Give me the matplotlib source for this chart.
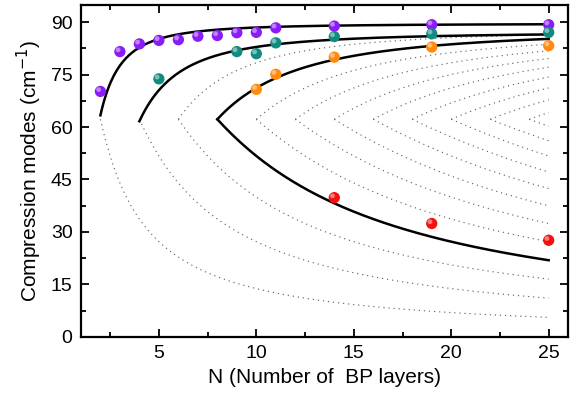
import numpy as np
import matplotlib
matplotlib.use("Agg")
import matplotlib.pyplot as plt
from matplotlib.transforms import offset_copy
from matplotlib.ticker import MultipleLocator

plt.rcParams['font.family'] = ['Liberation Sans', 'DejaVu Sans']

N_purple = [2, 3, 4, 5, 6, 7, 8, 9, 10, 11, 14, 19, 25]
w_purple = [70.2, 81.6, 83.8, 84.8, 85.0, 86.0, 86.2, 87.0, 87.1, 88.4, 88.9, 89.3, 89.3]
N_teal = [5, 9, 10, 11, 14, 19, 25]
w_teal = [73.8, 81.6, 81.0, 84.1, 85.9, 86.7, 87.1]
N_orange = [10, 11, 14, 19, 25]
w_orange = [70.8, 75.1, 80.0, 82.9, 83.3]
N_red = [14, 19, 25]
w_red = [39.8, 32.4, 27.6]

# ---- linear-chain model parameters ----
omega_dotted = 88.0                    # bulk frequency of the dotted model family
dotted_orders = list(range(1, 13))     # branch order k; vertex at N = 2k
dotted_upper_from = 3                  # upper dotted branches shown from this order on
solid_orders = [1, 2, 4]
solid_omegas = [89.6, 87.2, 88.0]
solid_has_lower = [False, False, True]
N_max = 25

colors = {'purple': '#8a1cf5', 'teal': '#128a80', 'orange': '#ff8a0d', 'red': '#f50f0f'}

fig = plt.figure(figsize=(5.78, 3.98), dpi=100)
ax = fig.add_axes([0.140, 0.154, 0.843, 0.834])

def branch(k, omega, upper):
    N = np.linspace(2 * k, N_max, 300)
    if upper:
        return N, omega * np.cos(k * np.pi / (2 * N))
    return N, omega * np.sin(k * np.pi / (2 * N))

for k in dotted_orders:
    for up in (True, False):
        if up and k < dotted_upper_from:
            continue
        n, w = branch(k, omega_dotted, up)
        ax.plot(n, w, color='#666666', lw=0.85, linestyle=(0, (1, 3.3)), zorder=1)

for k, om, low in zip(solid_orders, solid_omegas, solid_has_lower):
    n, w = branch(k, om, True)
    ax.plot(n, w, color='black', lw=1.8, zorder=2)
    if low:
        n, w = branch(k, om, False)
        ax.plot(n, w, color='black', lw=1.8, zorder=2)

hl = offset_copy(ax.transData, fig=fig, x=-1.8, y=1.8, units='dots')
for (xs, ys, c) in [(N_purple, w_purple, colors['purple']),
                    (N_teal, w_teal, colors['teal']),
                    (N_orange, w_orange, colors['orange']),
                    (N_red, w_red, colors['red'])]:
    ax.scatter(xs, ys, s=66, color=c, edgecolors='none', zorder=3)
    ax.scatter(xs, ys, s=12, color='white', alpha=0.45, edgecolors='none',
               zorder=4, transform=hl)

ax.set_xlim(1, 26)
ax.set_ylim(0, 95)
ax.xaxis.set_major_locator(MultipleLocator(5))
ax.xaxis.set_minor_locator(MultipleLocator(2.5))
ax.yaxis.set_major_locator(MultipleLocator(15))
ax.yaxis.set_minor_locator(MultipleLocator(7.5))
ax.tick_params(which='both', direction='in', top=True, right=True, width=1.3,
               labelsize=14, pad=6)
ax.tick_params(which='major', length=6)
ax.tick_params(which='minor', length=3.5)
for s in ax.spines.values():
    s.set_linewidth(1.6)

ax.set_xlabel('N (Number of  BP layers)', fontsize=15, labelpad=4)
ax.set_ylabel('Compression modes (cm$^{-1}$)', fontsize=15, labelpad=5)

fig.savefig('out.png', dpi=100)
